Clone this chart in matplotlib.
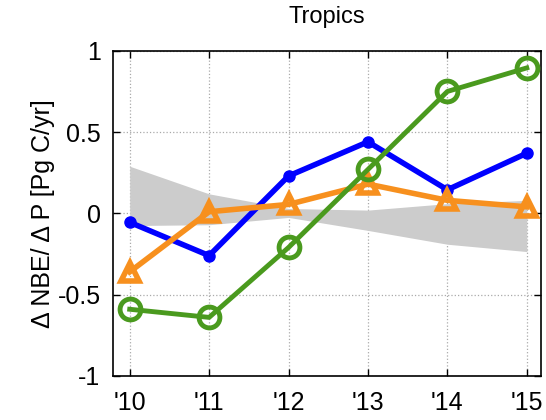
import numpy as np
import matplotlib.pyplot as plt

plt.rcParams["font.family"] = ["Liberation Sans", "DejaVu Sans"]
plt.rcParams["font.size"] = 18

years = [2010, 2011, 2012, 2013, 2014, 2015]
year_labels = ["'10", "'11", "'12", "'13", "'14", "'15"]

blue = [-0.055, -0.26, 0.23, 0.44, 0.145, 0.37]
orange = [-0.36, 0.01, 0.055, 0.18, 0.08, 0.04]
green = [-0.59, -0.64, -0.21, 0.27, 0.75, 0.895]

band_upper = [0.29, 0.12, 0.03, 0.02, 0.06, 0.08]
band_lower = [-0.075, -0.07, -0.025, -0.105, -0.19, -0.235]

fig = plt.figure(figsize=(5.46, 4.2), dpi=100)
ax = fig.add_axes([0.207, 0.105, 0.784, 0.774])

ax.fill_between(years, band_lower, band_upper, color="#cccccc", lw=0, zorder=1)

ax.plot(years, blue, color="#0000ff", lw=4, marker="o", ms=8, zorder=3)
ax.plot(years, orange, color="#f7901e", lw=4, marker="^", ms=13,
        mfc="none", mec="#f7901e", mew=4, zorder=4)
ax.plot(years, green, color="#4a9a1e", lw=3.5, marker="o", ms=15,
        mfc="none", mec="#4a9a1e", mew=3.5, zorder=5)

ax.set_xlim(2009.79, 2015.18)
ax.set_ylim(-1, 1)
ax.set_xticks(years)
ax.set_xticklabels(year_labels)
ax.set_yticks([-1, -0.5, 0, 0.5, 1])
ax.set_yticklabels(["-1", "-0.5", "0", "0.5", "1"])
ax.tick_params(direction="in", top=True, right=True, length=5, width=1)
ax.tick_params(axis="x", pad=11)
ax.tick_params(axis="y", pad=9)
ax.grid(True, linestyle=":", color="#aaaaaa", lw=0.9)
ax.set_axisbelow(True)
for s in ax.spines.values():
    s.set_linewidth(1.2)

ax.set_title("Tropics", fontsize=17, pad=20)
ax.set_ylabel("Δ NBE/ Δ P [Pg C/yr]", fontsize=18, labelpad=2)

fig.savefig("out.png", dpi=100)
